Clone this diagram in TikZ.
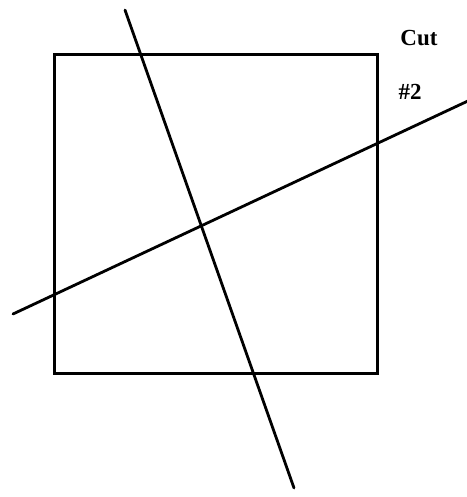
\documentclass[tikz,border=0pt]{standalone}
\usepackage{fontspec}
\setmainfont{Liberation Serif}
\usetikzlibrary{positioning}

\begin{document}
\begin{tikzpicture}[x=1pt,y=-1pt,
  edge/.style={black,line width=3pt},
  cutline/.style={black,line width=2.8pt,line cap=round},
  label/.style={font=\fontsize{23}{26}\selectfont\bfseries,inner sep=0pt}]

\useasboundingbox (0,0) rectangle (466,497);

%% ---------- square ----------
\coordinate (SQ1) at (54,55);
\coordinate (SQ2) at (377,373);
\draw[edge] (SQ1) rectangle (SQ2);

%% ---------- cuts ----------
\coordinate (A1) at (125,10);
\coordinate (A2) at (294,488);
\draw[cutline] (A1) -- (A2);

\coordinate (B1) at (13,314);
\coordinate (B2) at (470,100);
\draw[cutline] (B1) -- (B2);

%% ---------- label ----------
\node[label] (cut) at (419,38) {Cut};
\node[label] (num) at (410,92) {\#2};

\end{tikzpicture}
\end{document}
